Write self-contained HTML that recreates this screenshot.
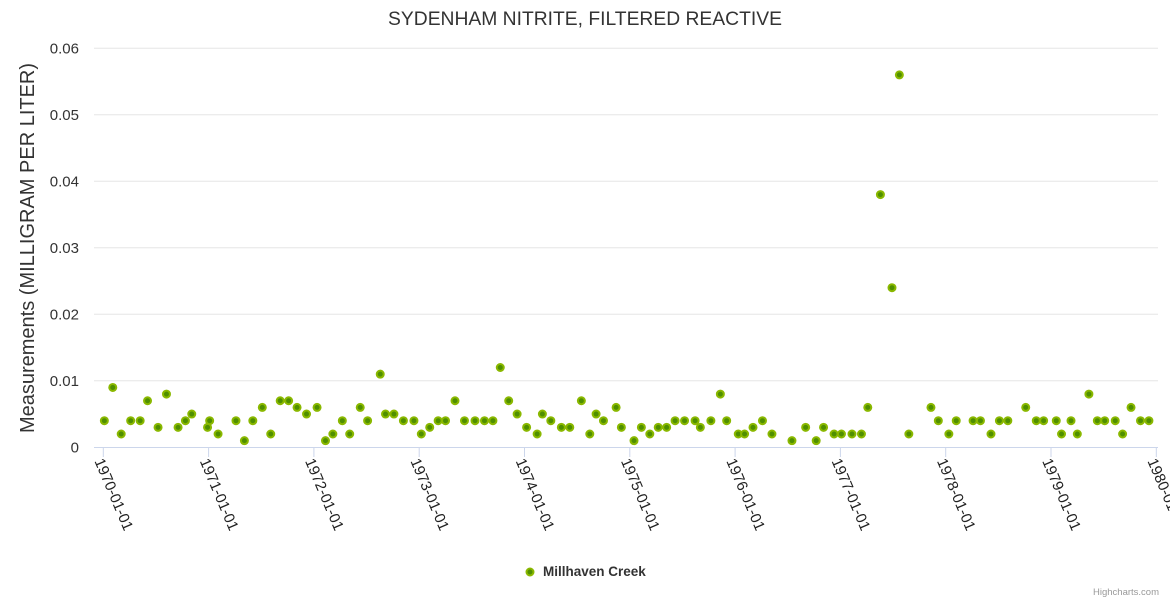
<!DOCTYPE html>
<html><head><meta charset="utf-8"><style>
body{margin:0;background:#fff;}
svg{display:block;font-family:"Liberation Sans",sans-serif;}
</style></head><body>
<svg id="chart" width="1170" height="600">
<text x="585" y="25" text-anchor="middle" font-size="19.3" fill="#333">SYDENHAM NITRITE, FILTERED REACTIVE</text>
<text transform="translate(34,248) rotate(-90)" text-anchor="middle" font-size="20" fill="#333">Measurements (MILLIGRAM PER LITER)</text>
<g id="grid"></g><g id="xaxis"></g><g id="pts"></g>
<g>
<circle cx="530" cy="572" r="3.5" fill="#4f8f00" stroke="#8ab800" stroke-width="2"></circle>
<text x="543" y="576" font-size="13.5" font-weight="bold" fill="#333">Millhaven Creek</text>
</g>
<text x="1159" y="595" text-anchor="end" font-size="9.5" fill="#999">Highcharts.com</text>
</svg>
<script>
const years=[1970.01,1970.09,1970.17,1970.26,1970.35,1970.42,1970.52,1970.60,1970.71,1970.78,1970.84,1970.99,1971.01,1971.09,1971.26,1971.34,1971.42,1971.51,1971.59,1971.68,1971.76,1971.84,1971.93,1972.03,1972.11,1972.18,1972.27,1972.34,1972.44,1972.51,1972.63,1972.68,1972.76,1972.85,1972.95,1973.02,1973.10,1973.18,1973.25,
1973.34,1973.43,1973.53,1973.62,1973.70,1973.77,1973.85,1973.93,1974.02,1974.12,1974.17,1974.25,1974.35,1974.43,1974.54,1974.62,1974.68,1974.75,1974.87,1974.92,1975.04,1975.11,1975.19,1975.27,1975.35,1975.43,1975.52,1975.62,1975.67,1975.77,1975.86,1975.92,1976.03,1976.09,1976.17,1976.26,1976.35,1976.54,
1976.67,1976.77,1976.84,1976.94,1977.01,1977.11,1977.20,1977.26,1977.38,1977.49,1977.56,1977.65,1977.86,1977.93,1978.03,1978.10,1978.26,1978.33,1978.43,1978.51,1978.59,1978.76,1978.86,1978.93,1979.05,1979.10,1979.19,1979.25,1979.36,1979.44,1979.51,1979.61,1979.68,1979.76,1979.85,1979.93];
const values=[.004,.009,.002,.004,.004,.007,.003,.008,.003,.004,.005,.003,.004,.002,.004,.001,.004,.006,.002,.007,.007,.006,.005,.006,.001,.002,.004,.002,.006,.004,.011,.005,.005,.004,.004,.002,.003,.004,.004,
.007,.004,.004,.004,.004,.012,.007,.005,.003,.002,.005,.004,.003,.003,.007,.002,.005,.004,.006,.003,.001,.003,.002,.003,.003,.004,.004,.004,.003,.004,.008,.004,.002,.002,.003,.004,.002,.001,
.003,.001,.003,.002,.002,.002,.002,.006,.038,.024,.056,.002,.006,.004,.002,.004,.004,.004,.002,.004,.004,.006,.004,.004,.004,.002,.004,.002,.008,.004,.004,.004,.002,.006,.004,.004];
const yTicks=[0,0.01,0.02,0.03,0.04,0.05,0.06];
const yTickLabels=["0","0.01","0.02","0.03","0.04","0.05","0.06"];
const xTicks=[1970,1971,1972,1973,1974,1975,1976,1977,1978,1979,1980];
const xTickLabels=["1970-01-01","1971-01-01","1972-01-01","1973-01-01","1974-01-01","1975-01-01","1976-01-01","1977-01-01","1978-01-01","1979-01-01","1980-01-01"];
const NS="http://www.w3.org/2000/svg";
const xS=y=>103.3+(y-1970)*105.3;
const yS=v=>447.3-v*6650;
function mk(t,a,p){const e=document.createElementNS(NS,t);for(const k in a)e.setAttribute(k,a[k]);p.appendChild(e);return e;}
const grid=document.getElementById('grid'),xa=document.getElementById('xaxis'),pts=document.getElementById('pts');
yTicks.forEach((t,i)=>{
  if(i>0){const l=mk('line',{x1:94,x2:1158,y1:yS(t),y2:yS(t),stroke:'#e6e6e6'},grid);
  
  }
  const tx=mk('text',{x:79,y:yS(t)+5,'text-anchor':'end','font-size':15,fill:'#333'},grid);
  
  
  tx.textContent=yTickLabels[i];
});
const ax=mk('line',{x1:94,x2:1158,y1:447.5,y2:447.5,stroke:'#ccd6eb'},xa);


xTicks.forEach((t,i)=>{
  const x=xS(t);
  const tk=mk('line',{x1:x,x2:x,y1:447,y2:457,stroke:'#ccd6eb'},xa);
  
  
  const tx=mk('text',{transform:`translate(${x-9},461) rotate(67)`,'font-size':15,fill:'#222'},xa);
  
  
  tx.textContent=xTickLabels[i];
});
years.forEach((y,i)=>{
  const c=mk('circle',{cx:xS(y),cy:yS(values[i]),r:3.5,fill:'#4f8f00',stroke:'#8ab800','stroke-width':2},pts);
  
  
});
</script>
</body></html>
